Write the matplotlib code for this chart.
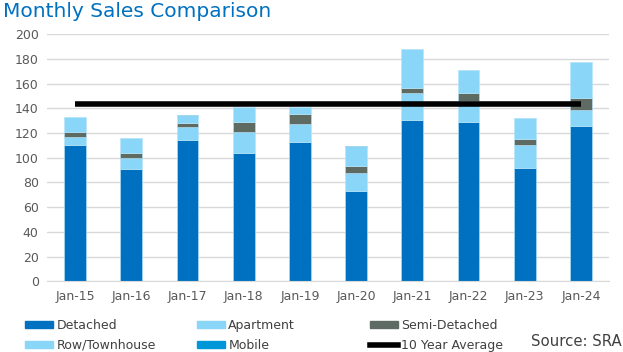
import matplotlib
matplotlib.use("Agg")
import matplotlib.pyplot as plt
import numpy as np
from matplotlib.patches import Patch
from matplotlib.lines import Line2D

categories = ["Jan-15", "Jan-16", "Jan-17", "Jan-18", "Jan-19",
              "Jan-20", "Jan-21", "Jan-22", "Jan-23", "Jan-24"]
detached = [110, 91, 114, 104, 113, 73.5, 130.5, 128.5, 92, 125.5]
apartment = [7, 9, 11, 17, 14, 14.5, 21.5, 17, 18, 13]
semi_detached = [4, 4, 3, 8, 8, 5.5, 4.5, 6.5, 5, 10]
row_townhouse = [12, 12, 5.5, 12, 6, 15, 31, 19, 17, 28.5]
mobile = [0, 0, 1, 0, 0, 1, 0, 0, 0, 0]
ten_year_avg = [143.5] * 10

c_det = "#0070C0"
c_apt = "#89D6F8"
c_semi = "#5E6B63"
c_row = "#89D6F8"
c_mob = "#0096D8"

fig = plt.figure(figsize=(6.23, 3.52), dpi=100)
ax = fig.add_axes([0.0754, 0.2003, 0.9021, 0.7031])

x = np.arange(len(categories))
w = 0.39
series = [(detached, c_det), (apartment, c_apt), (semi_detached, c_semi),
          (row_townhouse, c_row), (mobile, c_mob)]
bottom = np.zeros(len(categories))
for vals, col in series:
    v = np.array(vals, dtype=float)
    ax.bar(x, v, w, bottom=bottom, color=col, edgecolor="#B8E4F8", linewidth=0.4, zorder=2)
    bottom += v

ax.plot(x, ten_year_avg, color="black", linewidth=4, zorder=3, solid_capstyle="butt")

ax.set_xlim(-0.5, len(categories) - 0.5)
ax.set_ylim(0, 200)
ax.set_yticks(range(0, 201, 20))
ax.set_xticks(x)
ax.set_xticklabels(categories)
ax.yaxis.grid(True, color="#D9D9D9", linewidth=1)
ax.set_axisbelow(True)
for s in ["top", "right", "left"]:
    ax.spines[s].set_visible(False)
ax.spines["bottom"].set_color("#D9D9D9")
ax.tick_params(axis="both", length=0, labelsize=9, colors="#595959")
ax.tick_params(axis="y", pad=6)
ax.tick_params(axis="x", pad=6)

fig.text(0.005, 0.995, "Monthly Sales Comparison", color="#0070C0", fontsize=14.5,
         ha="left", va="top")

columns = [
    [Patch(color=c_det, label="Detached"), Patch(color=c_row, label="Row/Townhouse")],
    [Patch(color=c_apt, label="Apartment"), Patch(color=c_mob, label="Mobile")],
    [Patch(color=c_semi, label="Semi-Detached"),
     Line2D([0], [0], color="black", linewidth=4, label="10 Year Average")],
]
xpos = [25, 197, 370]
for hs, xp in zip(columns, xpos):
    fig.legend(handles=hs, ncol=1, loc="upper left",
               bbox_to_anchor=(xp / 623, 1 - 319 / 352), frameon=False, fontsize=9,
               handlelength=2.25, handleheight=0.55, handletextpad=0.25,
               borderpad=0, borderaxespad=0, labelspacing=0.55, labelcolor="#404040")

fig.text(0.998, 1 - 342 / 352, "Source: SRA", color="#404040", fontsize=10.7,
         ha="right", va="center")

fig.savefig("out.png", dpi=100)
